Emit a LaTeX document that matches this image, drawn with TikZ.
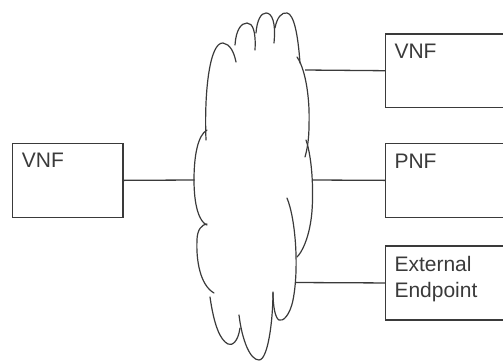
\documentclass[tikz,border=0pt]{standalone}
\usepackage{fontspec}
\setmainfont{Liberation Sans}
\definecolor{ink}{HTML}{3A3A3A}
\begin{document}
\begin{tikzpicture}[x=1pt,y=-1pt,
  box/.style={draw=ink, line width=1.3pt, rectangle, inner sep=0pt, anchor=north west},
  lbl/.style={text=ink, font=\fontsize{21}{25.5}\selectfont, inner sep=0pt, anchor=base west, align=left},
  conn/.style={draw=ink, line width=1.3pt},
  lobe/.style={draw=ink, line width=1.2pt, line cap=round}]
\useasboundingbox (0,0) rectangle (503,360);
\clip (0,0) rectangle (503,360);
% boxes
\node[box, minimum width=110.6pt, minimum height=74pt] (vnfL) at (11.7,142.7) {};
\node[box, minimum width=140pt, minimum height=73.5pt] (vnfR) at (385,33.3) {};
\node[box, minimum width=140pt, minimum height=74pt] (pnf) at (385,142.7) {};
\node[box, minimum width=140pt, minimum height=74pt] (ext) at (385,245.3) {};
% labels
\node[lbl] (tvnfL) at (21.7,167.5) {VNF};
\node[lbl] (tvnfR) at (394.3,58.3) {VNF};
\node[lbl] (tpnf) at (394.3,168) {PNF};
\node[lbl] (text) at (394.3,297) {External\\Endpoint};
% cloud lobes
\path[lobe] (206,140) .. controls (204,90) and (210,42) .. (223,43) .. controls (230,44) and (234,52) .. (236,62);
\path[lobe] (235,45) .. controls (236,30) and (241,23) .. (247,23) .. controls (253,23) and (256,32) .. (255,50);
\path[lobe] (256,33) .. controls (257,20) and (261,13) .. (266,13) .. controls (272,13) and (276,22) .. (274,43);
\path[lobe] (275,28) .. controls (277,17) and (282,12) .. (287,13) .. controls (294,14) and (298,35) .. (300,63);
\path[lobe] (297,57) .. controls (306,70) and (310,100) .. (309,125) .. controls (309,140) and (307,150) .. (305,157);
\path[lobe] (306,140) .. controls (313,160) and (314,200) .. (311,220) .. controls (308,240) and (302,252) .. (297,257);
\path[lobe] (287,198) .. controls (296,220) and (299,270) .. (293,300) .. controls (290,315) and (283,322) .. (279,320) .. controls (275,318) and (273,305) .. (273,293);
\path[lobe] (273,292) .. controls (273,320) and (268,360) .. (259,360) .. controls (250,360) and (242,340) .. (239,315);
\path[lobe] (240,328) .. controls (238,342) and (232,346) .. (228,344) .. controls (220,340) and (214,325) .. (210,297);
\path[lobe] (214,293) .. controls (200,285) and (196,260) .. (197,240) .. controls (197,230) and (202,224) .. (207,224);
\path[lobe] (207,225) .. controls (199,222) and (194,205) .. (194,180) .. controls (194,155) and (198,135) .. (207,130);
% connection points on cloud
\coordinate (cL) at (194.5,180);
\coordinate (cR1) at (305,70);
\coordinate (cR2) at (312.5,180);
\coordinate (cR3) at (295.5,282.5);
% connectors
\draw[conn] (vnfL.east) -- (cL);
\draw[conn] (cR1) -- (vnfR.west);
\draw[conn] (cR2) -- (pnf.west);
\draw[conn] (cR3) -- (ext.west);
\end{tikzpicture}
\end{document}
